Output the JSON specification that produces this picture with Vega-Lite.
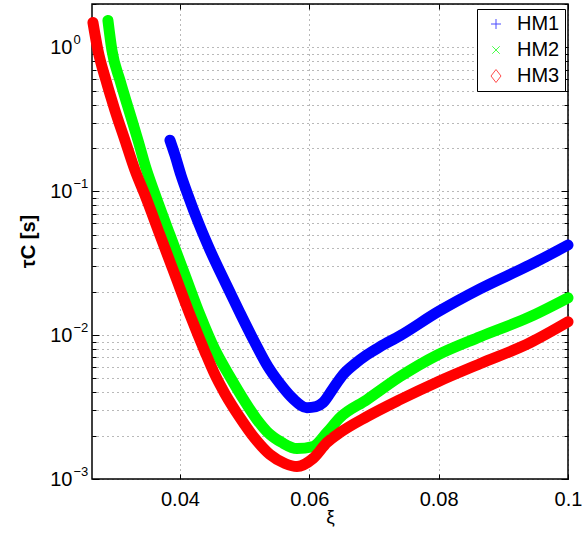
{
  "$schema": "https://vega.github.io/schema/vega-lite/v6.json",
  "width": 476,
  "height": 475,
  "autosize": {"type": "none"},
  "padding": {"left": 92, "top": 4, "right": 14, "bottom": 56},
  "background": "white",
  "config": {"view": {"stroke": "#000", "strokeWidth": 1.5}, "font": "Liberation Sans"},
  "data": {"values": [
    {"series": "HM1", "xi": 0.038454, "tau": 0.2261},
    {"series": "HM1", "xi": 0.039227, "tau": 0.1780},
    {"series": "HM1", "xi": 0.040155, "tau": 0.1293},
    {"series": "HM1", "xi": 0.041237, "tau": 0.09397},
    {"series": "HM1", "xi": 0.042938, "tau": 0.05913},
    {"series": "HM1", "xi": 0.044639, "tau": 0.03905},
    {"series": "HM1", "xi": 0.047113, "tau": 0.02269},
    {"series": "HM1", "xi": 0.049278, "tau": 0.01428},
    {"series": "HM1", "xi": 0.051443, "tau": 0.009130},
    {"series": "HM1", "xi": 0.053608, "tau": 0.006030},
    {"series": "HM1", "xi": 0.055463, "tau": 0.004596},
    {"series": "HM1", "xi": 0.057473, "tau": 0.003616},
    {"series": "HM1", "xi": 0.059638, "tau": 0.003132},
    {"series": "HM1", "xi": 0.061030, "tau": 0.003182},
    {"series": "HM1", "xi": 0.062113, "tau": 0.003392},
    {"series": "HM1", "xi": 0.063658, "tau": 0.004243},
    {"series": "HM1", "xi": 0.065205, "tau": 0.005305},
    {"series": "HM1", "xi": 0.067060, "tau": 0.006324},
    {"series": "HM1", "xi": 0.068916, "tau": 0.007302},
    {"series": "HM1", "xi": 0.070927, "tau": 0.008296},
    {"series": "HM1", "xi": 0.074019, "tau": 0.009889},
    {"series": "HM1", "xi": 0.079895, "tau": 0.01451},
    {"series": "HM1", "xi": 0.086389, "tau": 0.02096},
    {"series": "HM1", "xi": 0.094121, "tau": 0.03073},
    {"series": "HM1", "xi": 0.1, "tau": 0.04229},
    {"series": "HM2", "xi": 0.028866, "tau": 1.537},
    {"series": "HM2", "xi": 0.029485, "tau": 0.9517},
    {"series": "HM2", "xi": 0.030722, "tau": 0.5894},
    {"series": "HM2", "xi": 0.032114, "tau": 0.3650},
    {"series": "HM2", "xi": 0.033506, "tau": 0.2261},
    {"series": "HM2", "xi": 0.034743, "tau": 0.1446},
    {"series": "HM2", "xi": 0.036134, "tau": 0.09548},
    {"series": "HM2", "xi": 0.038454, "tau": 0.04961},
    {"series": "HM2", "xi": 0.040773, "tau": 0.02619},
    {"series": "HM2", "xi": 0.043093, "tau": 0.01383},
    {"series": "HM2", "xi": 0.045412, "tau": 0.007908},
    {"series": "HM2", "xi": 0.047732, "tau": 0.005139},
    {"series": "HM2", "xi": 0.050051, "tau": 0.003447},
    {"series": "HM2", "xi": 0.051907, "tau": 0.002586},
    {"series": "HM2", "xi": 0.053453, "tau": 0.002135},
    {"series": "HM2", "xi": 0.055773, "tau": 0.001791},
    {"series": "HM2", "xi": 0.058092, "tau": 0.001627},
    {"series": "HM2", "xi": 0.060566, "tau": 0.001680},
    {"series": "HM2", "xi": 0.062731, "tau": 0.002101},
    {"series": "HM2", "xi": 0.064741, "tau": 0.002670},
    {"series": "HM2", "xi": 0.068916, "tau": 0.003558},
    {"series": "HM2", "xi": 0.074019, "tau": 0.005139},
    {"series": "HM2", "xi": 0.079895, "tau": 0.007302},
    {"series": "HM2", "xi": 0.086389, "tau": 0.009732},
    {"series": "HM2", "xi": 0.094121, "tau": 0.01339},
    {"series": "HM2", "xi": 0.1, "tau": 0.01815},
    {"series": "HM3", "xi": 0.026547, "tau": 1.488},
    {"series": "HM3", "xi": 0.027320, "tau": 0.9517},
    {"series": "HM3", "xi": 0.028557, "tau": 0.5894},
    {"series": "HM3", "xi": 0.029949, "tau": 0.3650},
    {"series": "HM3", "xi": 0.031495, "tau": 0.2261},
    {"series": "HM3", "xi": 0.033042, "tau": 0.1401},
    {"series": "HM3", "xi": 0.034588, "tau": 0.09397},
    {"series": "HM3", "xi": 0.036907, "tau": 0.04961},
    {"series": "HM3", "xi": 0.039227, "tau": 0.02619},
    {"series": "HM3", "xi": 0.041546, "tau": 0.01383},
    {"series": "HM3", "xi": 0.043866, "tau": 0.007659},
    {"series": "HM3", "xi": 0.045412, "tau": 0.005305},
    {"series": "HM3", "xi": 0.046958, "tau": 0.003916},
    {"series": "HM3", "xi": 0.049278, "tau": 0.002670},
    {"series": "HM3", "xi": 0.051597, "tau": 0.001910},
    {"series": "HM3", "xi": 0.053917, "tau": 0.001478},
    {"series": "HM3", "xi": 0.056236, "tau": 0.001281},
    {"series": "HM3", "xi": 0.058092, "tau": 0.001221},
    {"series": "HM3", "xi": 0.060566, "tau": 0.001387},
    {"series": "HM3", "xi": 0.062731, "tau": 0.001791},
    {"series": "HM3", "xi": 0.064741, "tau": 0.002101},
    {"series": "HM3", "xi": 0.068916, "tau": 0.002713},
    {"series": "HM3", "xi": 0.074019, "tau": 0.003558},
    {"series": "HM3", "xi": 0.079895, "tau": 0.004745},
    {"series": "HM3", "xi": 0.086389, "tau": 0.006324},
    {"series": "HM3", "xi": 0.094121, "tau": 0.008845},
    {"series": "HM3", "xi": 0.1, "tau": 0.01237}
  ]},
  "layer": [
    {
      "mark": {"type": "line", "interpolate": "monotone", "strokeCap": "round", "strokeJoin": "round"},
      "encoding": {
        "x": {"field": "xi", "type": "quantitative",
          "scale": {"domain": [0.0264, 0.1], "nice": false, "zero": false},
          "axis": {"values": [0.04, 0.06, 0.08, 0.1], "format": ".2~f", "title": "ξ",
            "grid": true, "gridDash": [1, 4], "gridColor": "#000", "gridOpacity": 0.55,
            "domain": false, "tickSize": -5, "tickColor": "#000",
            "labelFontSize": 20, "labelColor": "#000", "labelPadding": 15,
            "labelFlush": false, "labelOverlap": false, "labelBound": false,
            "titleFontSize": 19, "titleFontWeight": "normal", "titleColor": "#000",
            "titleY": 37, "titleBaseline": "middle"}},
        "y": {"field": "tau", "type": "quantitative",
          "scale": {"type": "log", "domain": [0.001, 2], "nice": false},
          "axis": {"values": [0.001, 0.002, 0.003, 0.004, 0.005, 0.006, 0.007, 0.008, 0.009, 0.01, 0.02, 0.03, 0.04, 0.05, 0.06, 0.07, 0.08, 0.09, 0.1, 0.2, 0.3, 0.4, 0.5, 0.6, 0.7, 0.8, 0.9, 1, 2],
            "labelExpr": "(datum.value == 1 || datum.value == 0.1 || datum.value == 0.01 || datum.value == 0.001) ? '10' : ''",
            "title": "τC [s]",
            "grid": true, "gridDash": [1, 4], "gridColor": "#000", "gridOpacity": 0.55,
            "domain": false,
            "tickSize": {"condition": {"test": "datum.value == 1 || datum.value == 0.1 || datum.value == 0.01 || datum.value == 0.001", "value": -7}, "value": -4},
            "tickColor": "#000",
            "labelFontSize": 20, "labelColor": "#000", "labelPadding": 27, "labelAlign": "right", "labelBaseline": "middle",
            "labelOverlap": false, "labelBound": false, "labelFlush": false,
            "titleFontSize": 20, "titleFontWeight": "bold", "titleColor": "#000",
            "titleX": -64, "titleY": 237, "titleAlign": "center", "titleBaseline": "middle", "titleAngle": -90}},
        "color": {"field": "series", "type": "nominal",
          "scale": {"domain": ["HM1", "HM2", "HM3"], "range": ["#0000ff", "#00ff00", "#ff0000"]},
          "legend": null},
        "strokeWidth": {"field": "series", "type": "nominal",
          "scale": {"domain": ["HM1", "HM2", "HM3"], "range": [11, 11, 15]},
          "legend": null}
      }
    },
    {
      "mark": {"type": "point", "filled": false, "size": 40, "strokeWidth": 1},
      "encoding": {
        "x": {"field": "xi", "type": "quantitative",
          "axis": {"orient": "top", "values": [0.04, 0.06, 0.08, 0.1], "labels": false, "title": null, "grid": false, "domain": false, "tickSize": -5, "tickColor": "#000"}},
        "y": {"field": "tau", "type": "quantitative",
          "axis": {"orient": "right", "values": [0.001, 0.002, 0.003, 0.004, 0.005, 0.006, 0.007, 0.008, 0.009, 0.01, 0.02, 0.03, 0.04, 0.05, 0.06, 0.07, 0.08, 0.09, 0.1, 0.2, 0.3, 0.4, 0.5, 0.6, 0.7, 0.8, 0.9, 1, 2],
            "labels": false, "title": null, "grid": false, "domain": false,
            "tickSize": {"condition": {"test": "datum.value == 1 || datum.value == 0.1 || datum.value == 0.01 || datum.value == 0.001", "value": -7}, "value": -4},
            "tickColor": "#000"}},
        "color": {"field": "series", "type": "nominal",
          "scale": {"domain": ["HM1", "HM2", "HM3"], "range": ["#0000ff", "#00ff00", "#ff0000"]},
          "legend": {"title": null, "orient": "none", "legendX": 385, "legendY": 5,
            "strokeColor": "#000", "fillColor": "#fff", "padding": 5,
            "labelFontSize": 20, "labelFont": "Liberation Sans", "labelColor": "#000",
            "symbolSize": 100, "symbolStrokeWidth": 1, "symbolOffset": 4, "labelOffset": 11, "rowPadding": 6}},
        "shape": {"field": "series", "type": "nominal",
          "scale": {"domain": ["HM1", "HM2", "HM3"], "range": ["M-1,0L1,0M0,-1L0,1", "M-0.75,-0.75L0.75,0.75M-0.75,0.75L0.75,-0.75", "M0,-1.3L1,0L0,1.3L-1,0Z"]},
          "legend": {"title": null, "orient": "none", "legendX": 385, "legendY": 5,
            "strokeColor": "#000", "fillColor": "#fff", "padding": 5,
            "labelFontSize": 20, "labelFont": "Liberation Sans", "labelColor": "#000",
            "symbolSize": 100, "symbolStrokeWidth": 1, "symbolOffset": 4, "labelOffset": 11, "rowPadding": 6}}
      }
    },
    {
      "mark": {"type": "point", "opacity": 0},
      "encoding": {
        "x": {"field": "xi", "type": "quantitative", "axis": null},
        "y": {"field": "tau", "type": "quantitative",
          "axis": {"orient": "left", "values": [0.001, 0.01, 0.1, 1],
            "labelExpr": "datum.value == 1 ? '0' : datum.value == 0.1 ? '−1' : datum.value == 0.01 ? '−2' : '−3'",
            "title": null, "grid": false, "domain": false, "ticks": false,
            "labelFontSize": 13, "labelColor": "#000", "labelPadding": 19, "labelAlign": "left", "labelBaseline": "middle", "labelOffset": -8,
            "labelOverlap": false, "labelBound": false, "labelFlush": false}}
      }
    }
  ],
  "resolve": {"axis": {"x": "independent", "y": "independent"}, "scale": {"color": "independent", "strokeWidth": "independent", "shape": "independent"}}
}
